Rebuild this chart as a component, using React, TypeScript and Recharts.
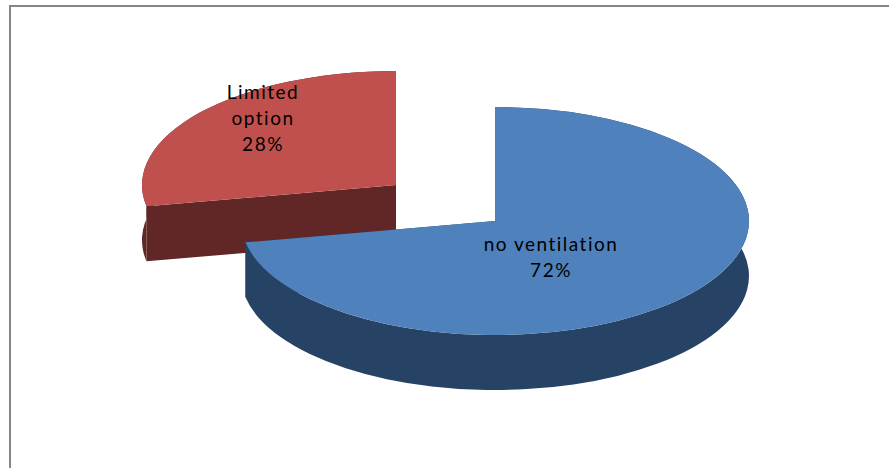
import React from 'react';
import { PieChart, Pie } from 'recharts';

const categories = ['Limited option', 'no ventilation'];
const shares = [28, 72];
const labelLines = [['Limited', 'option'], ['no ventilation']];

const topColors = ['#C0504D', '#4F81BD'];
const wallColors = ['#602726', '#264264'];
// how far each slice is pulled out of the pie, and where its label sits
const explode = [{ dx: -99, dy: -36 }, { dx: 0, dy: 0 }];
const labelAnchor = [{ x: 263, y: 91 }, { x: 551, y: 243 }];

const pieData = categories.map((name, i) => ({ name, value: shares[i] }));

const WIDTH = 889;
const HEIGHT = 468;
const RADIUS_X = 254;
const RADIUS_Y = 114;
const DEPTH = 55;

const pointAt = (cx: number, cy: number, deg: number) => {
  const rad = (deg * Math.PI) / 180;
  return {
    x: cx + RADIUS_X * Math.cos(rad),
    y: cy - RADIUS_Y * Math.sin(rad),
  };
};

// Recharts only does round pies, so squash each sector into an ellipse and extrude it
const SlantedSlice = (props: any) => {
  const { cx, cy, startAngle, endAngle, index } = props;
  const ox = cx + explode[index].dx;
  const oy = cy + explode[index].dy;
  const a = pointAt(ox, oy, startAngle);
  const b = pointAt(ox, oy, endAngle);
  const large = Math.abs(endAngle - startAngle) > 180 ? 1 : 0;
  const ell = `${RADIUS_X} ${RADIUS_Y} 0 ${large}`;
  const rim = `M${a.x} ${a.y} A${ell} 1 ${b.x} ${b.y} L${b.x} ${b.y + DEPTH} A${ell} 0 ${a.x} ${a.y + DEPTH} Z`;
  const cutFace = (p: { x: number; y: number }) =>
    `M${ox} ${oy} L${p.x} ${p.y} L${p.x} ${p.y + DEPTH} L${ox} ${oy + DEPTH} Z`;
  const top = `M${ox} ${oy} L${a.x} ${a.y} A${ell} 1 ${b.x} ${b.y} Z`;
  return (
    <g>
      <path d={rim} fill={wallColors[index]} />
      <path d={cutFace(a)} fill={wallColors[index]} />
      <path d={cutFace(b)} fill={wallColors[index]} />
      <path d={top} fill={topColors[index]} />
    </g>
  );
};

const SliceLabel = (props: any) => {
  const { index, value } = props;
  const { x, y } = labelAnchor[index];
  const lines = [...labelLines[index], `${value}%`];
  return (
    <text
      x={x}
      y={y}
      textAnchor="middle"
      dominantBaseline="central"
      fontFamily="Lato, sans-serif"
      fontSize={19}
      letterSpacing={1.5}
      fill="#000"
    >
      {lines.map((line, i) => (
        <tspan key={line} x={x} dy={i === 0 ? 0 : 26}>
          {line}
        </tspan>
      ))}
    </text>
  );
};

export default function App() {
  return (
    <div style={{ position: 'absolute', left: 0, top: 0, width: WIDTH, height: HEIGHT, background: '#fff', overflow: 'hidden' }}>
      {/* chart frame, only top and left edges show in the crop */}
      <div style={{ position: 'absolute', left: 9, top: 5, right: 0, bottom: -4, borderTop: '2px solid #868686', borderLeft: '2px solid #868686' }} />
      <div style={{ position: 'absolute', left: 0, top: 0 }}>
        <PieChart width={WIDTH} height={HEIGHT} margin={{ top: 0, right: 0, bottom: 0, left: 0 }}>
          <Pie
            data={pieData}
            dataKey="value"
            nameKey="name"
            cx={495}
            cy={221}
            outerRadius={RADIUS_X}
            startAngle={190.8}
            endAngle={-169.2}
            paddingAngle={0}
            stroke="none"
            shape={SlantedSlice}
            label={SliceLabel}
            labelLine={false}
            isAnimationActive={false}
          />
        </PieChart>
      </div>
    </div>
  );
}
